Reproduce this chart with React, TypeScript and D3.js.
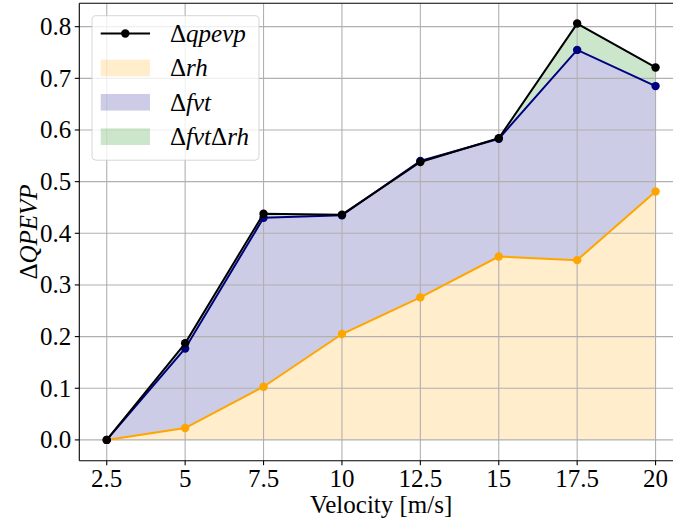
import React from 'react';
import * as d3 from 'd3';

// values
const velocity = [2.5, 5, 7.5, 10, 12.5, 15, 17.5, 20];
const dRh = [0, 0.023, 0.103, 0.205, 0.276, 0.355, 0.348, 0.481];
const dFvt = [0, 0.177, 0.43, 0.435, 0.54, 0.583, 0.755, 0.685];
const dQpevp = [0, 0.187, 0.438, 0.436, 0.538, 0.584, 0.806, 0.721];

const xTicks = [2.5, 5, 7.5, 10, 12.5, 15, 17.5, 20];
const yTicks = [0, 0.1, 0.2, 0.3, 0.4, 0.5, 0.6, 0.7, 0.8];

const W = 673;
const H = 525;
const FONT = 'Liberation Serif';

const App = () => {
  // axes box (right spine falls outside the crop, as in the original)
  const left = 79.3, right = 683, top = 3.3, bottom = 460.7;

  const x = d3.scaleLinear().domain([1.625, 20.875]).range([left, right]);
  const y = d3.scaleLinear().domain([-0.04025, 0.84525]).range([bottom, top]);

  const pts = (arr: number[]) => arr.map((v, i) => [velocity[i], v] as [number, number]);

  const line = d3.line<[number, number]>()
    .x(d => x(d[0]))
    .y(d => y(d[1]));

  const band = (lo: number[], hi: number[]) =>
    d3.area<number>()
      .x((_, i) => x(velocity[i]))
      .y0((_, i) => y(lo[i]))
      .y1((_, i) => y(hi[i]))(velocity.map((_, i) => i)) || '';

  const zeros = velocity.map(() => 0);

  const series = [
    { data: dRh, color: '#ffa500' },
    { data: dFvt, color: '#000080' },
    { data: dQpevp, color: '#000000' },
  ];

  const tickLen = 4.5;
  const fmtX = (v: number) => (Number.isInteger(v) ? String(v) : v.toFixed(1));

  // legend geometry
  const lg = { x: 92, y: 15.7, w: 167, h: 144.5 };
  const rows = [33.5, 68, 102.3, 136.7];

  return (
    <svg width={W} height={H} style={{ position: 'absolute', left: 0, top: 0, background: '#fff' }}>
      <defs>
        <clipPath id="plot">
          <rect x={left} y={top} width={right - left} height={bottom - top} />
        </clipPath>
      </defs>

      <g clipPath="url(#plot)">
        {/* filled bands */}
        <path d={band(zeros, dRh)} fill="#ffa500" fillOpacity={0.2} />
        <path d={band(dRh, dFvt)} fill="#000080" fillOpacity={0.2} />
        <path d={band(dFvt, dQpevp)} fill="#008000" fillOpacity={0.2} />

        {/* grid */}
        {xTicks.map(t => (
          <line key={'gx' + t} x1={x(t)} x2={x(t)} y1={top} y2={bottom} stroke="#b0b0b0" strokeWidth={1.1} />
        ))}
        {yTicks.map(t => (
          <line key={'gy' + t} x1={left} x2={right} y1={y(t)} y2={y(t)} stroke="#b0b0b0" strokeWidth={1.1} />
        ))}

        {/* lines + markers */}
        {series.map((s, k) => (
          <g key={k}>
            <path d={line(pts(s.data)) || ''} fill="none" stroke={s.color} strokeWidth={2} />
            {s.data.map((v, i) => (
              <circle key={i} cx={x(velocity[i])} cy={y(v)} r={4.2} fill={s.color} />
            ))}
          </g>
        ))}
      </g>

      {/* spines */}
      <g stroke="#000" strokeWidth={1.1} fill="none">
        <line x1={left} x2={left} y1={top} y2={bottom} />
        <line x1={left} x2={right} y1={top} y2={top} />
        <line x1={left} x2={right} y1={bottom} y2={bottom} />
        <line x1={right} x2={right} y1={top} y2={bottom} />
      </g>

      {/* x axis */}
      {xTicks.map(t => (
        <g key={'xt' + t}>
          <line x1={x(t)} x2={x(t)} y1={bottom} y2={bottom + tickLen} stroke="#000" strokeWidth={1.1} />
          <text x={x(t)} y={bottom + 26} textAnchor="middle" fontSize={25} fontFamily={FONT} fill="#000">
            {fmtX(t)}
          </text>
        </g>
      ))}
      <text x={(left + right) / 2} y={513} textAnchor="middle" fontSize={25} fontFamily={FONT} fill="#000">
        Velocity [m/s]
      </text>

      {/* y axis */}
      {yTicks.map(t => (
        <g key={'yt' + t}>
          <line x1={left - tickLen} x2={left} y1={y(t)} y2={y(t)} stroke="#000" strokeWidth={1.1} />
          <text x={left - 8} y={y(t)} dy="0.33em" textAnchor="end" fontSize={25} fontFamily={FONT} fill="#000">
            {t.toFixed(1)}
          </text>
        </g>
      ))}
      <text
        transform={`translate(37,${(top + bottom) / 2}) rotate(-90)`}
        textAnchor="middle"
        fontSize={25}
        fontFamily={FONT}
        fill="#000"
      >
        Δ<tspan fontStyle="italic">QPEVP</tspan>
      </text>

      {/* legend */}
      <rect
        x={lg.x}
        y={lg.y}
        width={lg.w}
        height={lg.h}
        rx={4}
        fill="#fff"
        fillOpacity={0.8}
        stroke="#cccccc"
        strokeOpacity={0.8}
      />
      <line x1={100.7} x2={150} y1={rows[0]} y2={rows[0]} stroke="#000" strokeWidth={2} />
      <circle cx={125.3} cy={rows[0]} r={4.2} fill="#000" />
      <rect x={100.7} y={rows[1] - 8.3} width={49.3} height={16.6} fill="#ffa500" fillOpacity={0.2} />
      <rect x={100.7} y={rows[2] - 8.3} width={49.3} height={16.6} fill="#000080" fillOpacity={0.2} />
      <rect x={100.7} y={rows[3] - 8.3} width={49.3} height={16.6} fill="#008000" fillOpacity={0.2} />
      {[
        ['qpevp'],
        ['rh'],
        ['fvt'],
        ['fvt', 'rh'],
      ].map((parts, i) => (
        <text key={i} x={170} y={rows[i]} dy="0.33em" fontSize={25} fontFamily={FONT} fill="#000">
          {parts.map((p, j) => (
            <React.Fragment key={j}>
              <tspan>Δ</tspan>
              <tspan fontStyle="italic">{p}</tspan>
            </React.Fragment>
          ))}
        </text>
      ))}
    </svg>
  );
};

export default App;
